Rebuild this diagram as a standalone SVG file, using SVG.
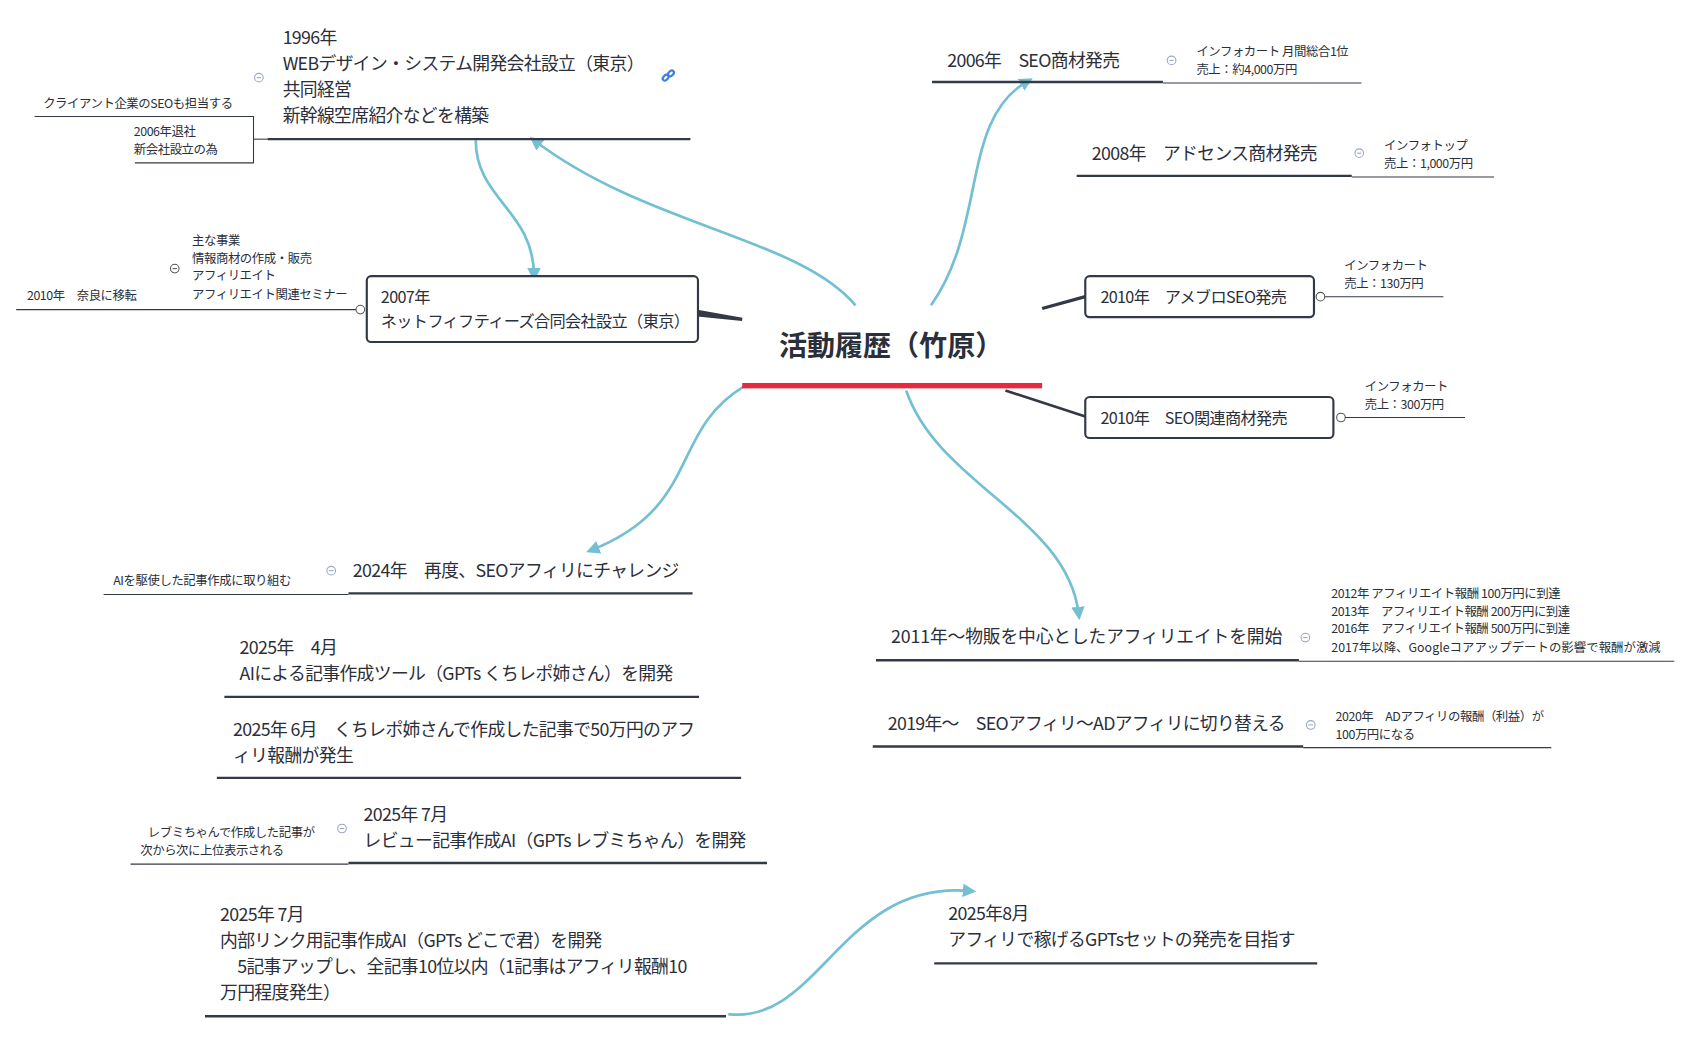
<svg xmlns="http://www.w3.org/2000/svg" width="1683" height="1042" viewBox="0 0 1683 1042">
<defs>
<marker id="ah" viewBox="0 0 10 10" refX="6" refY="5" markerWidth="5" markerHeight="5" orient="auto-start-reverse"><path d="M0,0 L10,5 L0,10 z" fill="#74c0d2"/></marker>
<style>
text{font-family:"Noto Sans CJK JP","Noto Sans",sans-serif;fill:#2b2f3a}
.t{font-size:16.5px;letter-spacing:-0.6px}.m{font-size:15px;letter-spacing:-0.6px}.s{font-size:11.5px;letter-spacing:-0.4px}
.u{stroke:#333a45;stroke-width:2.2;fill:none}
.th{stroke:#333a45;stroke-width:1;fill:none}
.bx{fill:#fff;stroke:#333a45;stroke-width:2}
.c{stroke:#74c0d2;stroke-width:2.5;fill:none;marker-end:url(#ah)}
.ic{fill:#fff;stroke:#9aa6c9;stroke-width:1}
.ic2{fill:#fff;stroke:#555;stroke-width:1}
</style>
</defs>
<rect width="1683" height="1042" fill="#fff"/>
<g transform="scale(1.0788)">
<g id="connectors">
<path class="c" d="M793,283 C740,220 600,210 495,130"/>
<path class="c" d="M441,130 C441,185 495,195 495,256"/>
<path class="c" d="M863,283 C915,210 890,110 953,75"/>
<path class="c" d="M840,362 C870,450 990,480 1000,570"/>
<path class="c" d="M690,358 C620,400 650,470 548,510"/>
<path class="c" d="M675,940 C760,950 780,815 900,826"/>
<path d="M688,296 L648,289 L648,292 Z" stroke="#333a45" stroke-width="3" fill="#333a45"/>
<path d="M966,286 L1006,275" stroke="#333a45" stroke-width="3"/>
<path d="M932,362 L1006,386" stroke="#333a45" stroke-width="2.5"/>
</g>
<g id="center">
<text x="826" y="330" font-size="26" font-weight="bold" text-anchor="middle">活動履歴（竹原）</text>
<rect x="688" y="355" width="278" height="5" fill="#e8283f"/>
</g>
<g id="n1996">
<text class="t" x="262" y="41">1996年</text>
<text class="t" x="262" y="65">WEBデザイン・システム開発会社設立（東京）</text>
<text class="t" x="262" y="89">共同経営</text>
<text class="t" x="262" y="113">新幹線空席紹介などを構築</text>
<line class="u" x1="248" y1="129" x2="640" y2="129"/>
<circle class="ic" cx="240" cy="72" r="4"/><line x1="238" y1="72" x2="242" y2="72" stroke="#9aa6c9"/>
<g stroke="#3b7fe0" stroke-width="2" fill="none"><rect x="614" y="70" width="6" height="4" rx="2" transform="rotate(-45 617 72)"/><rect x="619" y="66" width="6" height="4" rx="2" transform="rotate(-45 622 68)"/></g>
<text class="s" x="40" y="100">クライアント企業のSEOも担当する</text>
<path class="th" d="M32,108 H235 V151 H125"/>
<line class="th" x1="235" y1="129" x2="248" y2="129"/>
<text class="s" x="124" y="126">2006年退社</text>
<text class="s" x="124" y="143">新会社設立の為</text>
</g>
<g id="n2007">
<rect class="bx" x="340" y="256" width="307" height="61" rx="4"/>
<text class="m" x="353" y="281">2007年</text>
<text class="m" x="353" y="303">ネットフィフティーズ合同会社設立（東京）</text>
<line class="th" x1="15" y1="287" x2="330" y2="287"/>
<circle class="ic2" cx="334" cy="287" r="4"/>
<text class="s" x="25" y="278">2010年　奈良に移転</text>
<text class="s" x="178" y="227">主な事業</text>
<text class="s" x="178" y="244">情報商材の作成・販売</text>
<text class="s" x="178" y="260">アフィリエイト</text>
<text class="s" x="178" y="277">アフィリエイト関連セミナー</text>
<circle class="ic2" cx="162" cy="249" r="4"/><line x1="160" y1="249" x2="164" y2="249" stroke="#555"/>
</g>
<g id="n2006">
<text class="t" x="878" y="62">2006年　SEO商材発売</text>
<line class="u" x1="864" y1="76" x2="1078" y2="76"/><line class="th" x1="1078" y1="77" x2="1262" y2="77"/>
<circle class="ic" cx="1086" cy="56" r="4"/><line x1="1084" y1="56" x2="1088" y2="56" stroke="#9aa6c9"/>
<text class="s" x="1109" y="52">インフォカート 月間総合1位</text>
<text class="s" x="1109" y="69">売上：約4,000万円</text>
</g>
<g id="n2008">
<text class="t" x="1012" y="148">2008年　アドセンス商材発売</text>
<line class="u" x1="998" y1="163" x2="1253" y2="163"/><line class="th" x1="1253" y1="164" x2="1385" y2="164"/>
<circle class="ic" cx="1260" cy="142" r="4"/><line x1="1258" y1="142" x2="1262" y2="142" stroke="#9aa6c9"/>
<text class="s" x="1283" y="139">インフォトップ</text>
<text class="s" x="1283" y="156">売上：1,000万円</text>
</g>
<g id="n2010a">
<rect class="bx" x="1006" y="256" width="212" height="38" rx="4"/>
<text class="m" x="1020" y="281">2010年　アメブロSEO発売</text>
<circle class="ic2" cx="1224" cy="275" r="4"/><line class="th" x1="1228" y1="275" x2="1338" y2="275"/>
<text class="s" x="1246" y="250">インフォカート</text>
<text class="s" x="1246" y="267">売上：130万円</text>
</g>
<g id="n2010b">
<rect class="bx" x="1006" y="368" width="230" height="38" rx="4"/>
<text class="m" x="1020" y="393">2010年　SEO関連商材発売</text>
<circle class="ic2" cx="1243" cy="387" r="4"/><line class="th" x1="1247" y1="387" x2="1358" y2="387"/>
<text class="s" x="1265" y="362">インフォカート</text>
<text class="s" x="1265" y="379">売上：300万円</text>
</g>
<g id="n2011">
<text class="t" x="826" y="596" textLength="362">2011年～物販を中心としたアフィリエイトを開始</text>
<line class="u" x1="812" y1="612" x2="1204" y2="612"/><line class="th" x1="1204" y1="613" x2="1552" y2="613"/>
<circle class="ic" cx="1210" cy="591" r="4"/><line x1="1208" y1="591" x2="1212" y2="591" stroke="#9aa6c9"/>
<text class="s" x="1234" y="554">2012年 アフィリエイト報酬 100万円に到達</text>
<text class="s" x="1234" y="571">2013年　アフィリエイト報酬 200万円に到達</text>
<text class="s" x="1234" y="587">2016年　アフィリエイト報酬 500万円に到達</text>
<text class="s" x="1234" y="604" textLength="305">2017年以降、Googleコアアップデートの影響で報酬が激減</text>
</g>
<g id="n2019">
<text class="t" x="823" y="677" textLength="368">2019年～　SEOアフィリ～ADアフィリに切り替える</text>
<line class="u" x1="809" y1="692" x2="1208" y2="692"/><line class="th" x1="1208" y1="693" x2="1438" y2="693"/>
<circle class="ic" cx="1215" cy="672" r="4"/><line x1="1213" y1="672" x2="1217" y2="672" stroke="#9aa6c9"/>
<text class="s" x="1238" y="668">2020年　ADアフィリの報酬（利益）が</text>
<text class="s" x="1238" y="685">100万円になる</text>
</g>
<g id="n2024">
<text class="t" x="327" y="535">2024年　再度、SEOアフィリにチャレンジ</text>
<line class="u" x1="323" y1="550" x2="642" y2="550"/><line class="th" x1="96" y1="551" x2="323" y2="551"/>
<circle class="ic" cx="307" cy="529" r="4"/><line x1="305" y1="529" x2="309" y2="529" stroke="#9aa6c9"/>
<text class="s" x="105" y="542">AIを駆使した記事作成に取り組む</text>
</g>
<g id="n2025a">
<text class="t" x="222" y="606">2025年　4月</text>
<text class="t" x="222" y="630">AIによる記事作成ツール（GPTs くちレポ姉さん）を開発</text>
<line class="u" x1="208" y1="646" x2="648" y2="646"/>
</g>
<g id="n2025b">
<text class="t" x="216" y="682">2025年 6月　くちレポ姉さんで作成した記事で50万円のアフ</text>
<text class="t" x="216" y="706">ィリ報酬が発生</text>
<line class="u" x1="201" y1="721" x2="687" y2="721"/>
</g>
<g id="n2025c">
<text class="t" x="337" y="761">2025年 7月</text>
<text class="t" x="337" y="785">レビュー記事作成AI（GPTs レブミちゃん）を開発</text>
<line class="u" x1="323" y1="800" x2="711" y2="800"/><line class="th" x1="121" y1="801" x2="323" y2="801"/>
<circle class="ic" cx="317" cy="768" r="4"/><line x1="315" y1="768" x2="319" y2="768" stroke="#9aa6c9"/>
<text class="s" x="137" y="776">レブミちゃんで作成した記事が</text>
<text class="s" x="130" y="793">次から次に上位表示される</text>
</g>
<g id="n2025d">
<text class="t" x="204" y="854">2025年 7月</text>
<text class="t" x="204" y="878">内部リンク用記事作成AI（GPTs どこで君）を開発</text>
<text class="t" x="204" y="902">　5記事アップし、全記事10位以内（1記事はアフィリ報酬10</text>
<text class="t" x="204" y="926">万円程度発生）</text>
<line class="u" x1="190" y1="942" x2="673" y2="942"/>
</g>
<g id="n2025e">
<text class="t" x="879" y="853">2025年8月</text>
<text class="t" x="879" y="877">アフィリで稼げるGPTsセットの発売を目指す</text>
<line class="u" x1="866" y1="893" x2="1221" y2="893"/>
</g>
</g>
</svg>
